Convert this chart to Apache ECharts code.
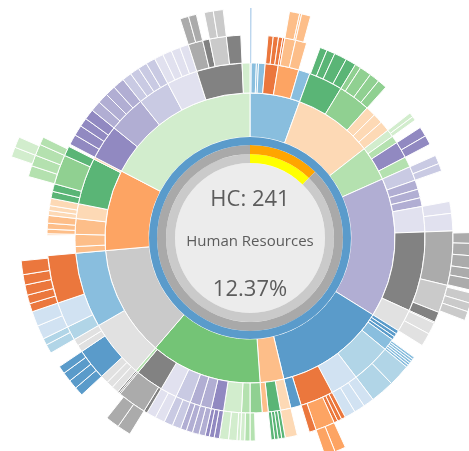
<!DOCTYPE html>
<html>
<head>
<meta charset="utf-8">
<script src="https://cdn.jsdelivr.net/npm/echarts@6/dist/echarts.min.js"></script>
<style>html,body{margin:0;padding:0;background:#fff}#chart{width:469px;height:451px}</style>
</head>
<body>
<div id="chart"></div>
<script>
// ---- centre figures ----
const headCount = 241;
const deptName = 'Human Resources';
const deptShare = 12.37; // percent

// ---- ring data (angular share per segment, clockwise from 12 o'clock); '' = empty ----
const ring1Values = [20, 32, 14, 56, 44.5, 9.5, 44.7, 44.3, 32.5, 62.5];
const ring1Groups = ['B2','O4','G3','P2','B1','O3','G0','K3','O2','G4'];

const ring2Values = [0.4,1.7,0.7,2.2,4.3,6.9,3.8, 11.3,10.7,3.3,3.3,3.4, 2.5,2.5,5.5,3.5,
  4.7,3.1,2.9,2.9,8.4,26.5,7.5, 1.2,1.2,1.1,4,13.2,9.3,11,3.5, 3.5,4,2,
  4,2.8,5.9,4.1,3.7,3.5,5,5.5,9.3,0.9, 19.3,25, 2.2,4,5.2,4.9,15.5,0.7,
  11.5,12.3,10.7,10.3,15.1,2.6];
const ring2Groups = ['LN','B2','B2','B2','O1','O2','B2', 'G1','G2','O4','O4','O4', 'G4','G3','P1','G3',
  'P3','P2','P2','P2','P4','K1','K4', 'B1','B1','B1','B2','B3','B4','O1','B1', 'O4','G1','O3',
  'G2','G3','G4','P1','P2','P2','P3','P4','K1','G3', 'K4','B2', 'O3','O3','O3','O4','G1','O4',
  'P1','P2','P3','P4','K1','G4'];

const ring3Values = [0.4,4.7,1.5,1.5,1.2,0.6,3.1,3.2,4,
  2.1,2.4,3.6,3,1.7,3.4,2.9,2.7,10,
  1.3,1.2,2.5,2.8,2.7,3.5,
  2.5,2.2,8.9,3.4,5,15.5,8,3.3,3.4,3.8,
  4,0.7,0.7,0.7,0.7,0.7,6.3,6.9,3.1,3.1,3.1,1.2,1.2,1.1,5.5,2,3.5,
  3.5,1,1,1,1,2,
  2.5,3,2.2,2.4,2.6,1.5,1.4,1.2,1.8,1.9,1.8,1.7,2.5,2.5,2.8,2.7,1,8.3,0.4,0.5,
  2,2,2.3,9,2,2,4,7.3,13.7,
  5.8,1.7,1.7,2.2,1.4,1.4,2.1,2,2.2,8.5,2.8,0.7,
  3,3,2.5,3,3,3,3,3.3,2.7,2.7,2.6,2.7,2.6,2.6,2.6,2.5,4.2,2,4.8,4.1,2.6];
const ring3Groups = ['LN','','O1','O1','O1','O1','O3','O3','',
  'G1','G1','G1','G1','G2','G2','G2','G2','',
  'G4','G4','','P1','P1','',
  'P3','P3','','P4','P4','K2','K3','K1','K4','K4',
  '','B2','B2','B2','B2','B2','B3','B3','B4','B4','B4','O1','O1','O1','O2','O1','',
  'O4','G1','G1','G1','G1','',
  '','G3','G4','G4','G4','P1','P1','P1','P2','P2','P2','P2','P3','P3','P4','P4','K1','K2','K1','K1',
  'K4','K4','K4','B1','K4','K4','B3','B4','O1',
  '','O3','O3','O3','O4','O4','O4','G1','G1','G2','G1','',
  'P1','P1','P1','P1','P2','P2','P2','P2','P3','P3','P3','P3','P4','P4','P4','P4','K2','K1','K3','K1',''];

const ring4Values = [0.4,9.5,2.6,2.8,73.3,2.8,3.2,3.3,2.6,2.8,0.7,2.5,2.2,2.3,44.5,2.8,2.7,50.5,3.5,3.5,8.5,
  2.3,2.3,2.4,2,4,2.3,1.7,3.5,3.8,2.1,2.2,2.6,2.6,3.5,21.2,2.8,2.8,2.9,2,46.3,2.2,2,2,2.3,2.5];
const ring4Groups = ['LN','','O3','O3','','K2','K2','K2','K2','K2','','K3','K3','K3','','O2','O2','','K2','K2','',
  'B1','B1','B1','B1','','B3','B3','B4','B4','O1','O1','O1','O1','O1','','G3','G3','G3','G3','','K2','K2','','K3','K3'];

const ring5Values = [288.8, 2.3, 2.5];
const ring5Groups = ['', 'G4', 'G4'];

// ---- styles ----
const palette = {
  B1:'#5a9bca', B2:'#89bede', B3:'#b1d5e7', B4:'#d1e2f2',
  O1:'#eb773d', O2:'#fda463', O3:'#fdbe89', O4:'#fdd9b5',
  G0:'#74c476', G1:'#5ab576', G2:'#90d091', G3:'#b4e1af', G4:'#d2edcd',
  P1:'#9189c1', P2:'#b1aed3', P3:'#c9cae3', P4:'#e1e1ef',
  K1:'#828282', K2:'#ababab', K3:'#cacaca', K4:'#e1e1e1', LN:'#bcd6ee'
};
const ringRadii = [[101,145],[145,175],[175,203],[203,230],[230,252]];
const cx = 250, cy = 238;

function makeNode(value, group) {
  if (!group) {
    return { value: value, name: '', children: [],
      itemStyle: { color: 'rgba(0,0,0,0)', borderWidth: 0 } };
  }
  return { value: value, name: group, children: [],
    itemStyle: { color: palette[group], borderWidth: group === 'LN' ? 0 : 1, borderColor: '#fff' } };
}

function buildTree() {
  const rings = [[ring1Values, ring1Groups],[ring2Values, ring2Groups],[ring3Values, ring3Groups],
                 [ring4Values, ring4Groups],[ring5Values, ring5Groups]];
  const roots = [];
  let parents = null;
  rings.forEach(function (ring) {
    const vals = ring[0], groups = ring[1];
    const cur = [];
    let acc = 0;
    vals.forEach(function (v, i) {
      const s = acc, e = acc + v; acc = e;
      const g = groups[i];
      if (!parents) {
        const n = makeNode(v, g); roots.push(n); cur.push({ s: s, e: e, node: n });
      } else {
        parents.forEach(function (p) {
          const a = Math.max(s, p.s), b = Math.min(e, p.e);
          if (b - a > 1e-6) {
            const n = makeNode(b - a, g); p.node.children.push(n); cur.push({ s: a, e: b, node: n });
          }
        });
      }
    });
    parents = cur;
  });
  return roots;
}

const chart = echarts.init(document.getElementById('chart'), null, { renderer: 'canvas' });
const levels = [{}].concat(ringRadii.map(function (r) { return { r0: r[0], r: r[1] }; }));

chart.setOption({
  animation: false,
  backgroundColor: '#fff',
  series: [
    {
      type: 'sunburst', center: [cx, cy], radius: [101, 252], sort: null,
      nodeClick: false, silent: true, startAngle: 90,
      data: buildTree(), levels: levels,
      label: { show: false },
      itemStyle: { borderColor: '#fff', borderWidth: 1 },
      emphasis: { disabled: true }
    },
    {
      type: 'pie', center: [cx, cy], radius: [0, 75], silent: true, label: { show: false },
      itemStyle: { color: '#ececec', borderWidth: 0 }, data: [{ value: 1 }]
    },
    {
      type: 'pie', center: [cx, cy], radius: [75, 84], silent: true, label: { show: false },
      startAngle: 90, clockwise: true, itemStyle: { borderWidth: 0 },
      data: [{ value: deptShare, itemStyle: { color: '#ffff00' } },
             { value: 100 - deptShare, itemStyle: { color: '#cacaca' } }]
    },
    {
      type: 'pie', center: [cx, cy], radius: [84, 93], silent: true, label: { show: false },
      startAngle: 90, clockwise: true, itemStyle: { borderWidth: 0 },
      data: [{ value: deptShare, itemStyle: { color: '#ffa500' } },
             { value: 100 - deptShare, itemStyle: { color: '#a9a9a9' } }]
    },
    {
      type: 'pie', center: [cx, cy], radius: [93, 101], silent: true, label: { show: false },
      itemStyle: { color: '#5a9bcb', borderWidth: 0 }, data: [{ value: 1 }]
    }
  ],
  graphic: [
    { type: 'text', z: 100, x: cx, y: 200, style: { text: 'HC: ' + headCount, font: '22px "Open Sans"', fill: '#5c5c5c', align: 'center', verticalAlign: 'middle' } },
    { type: 'text', z: 100, x: cx, y: 242, style: { text: deptName, font: '15px "Open Sans"', fill: '#5c5c5c', align: 'center', verticalAlign: 'middle' } },
    { type: 'text', z: 100, x: cx, y: 290, style: { text: deptShare.toFixed(2) + '%', font: '22px "Open Sans"', fill: '#5c5c5c', align: 'center', verticalAlign: 'middle' } }
  ]
});
</script>
</body>
</html>
